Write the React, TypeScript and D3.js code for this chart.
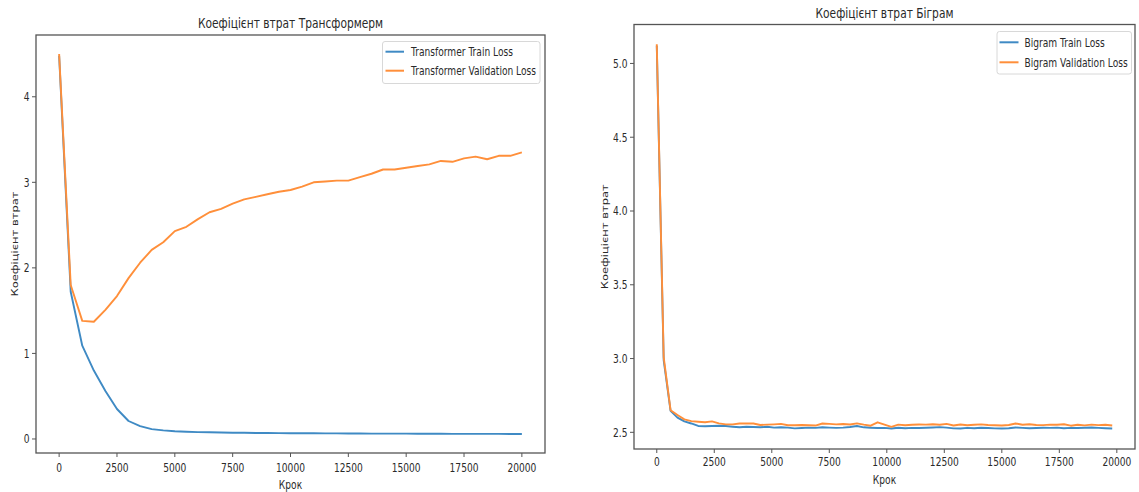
import React from 'react';
import * as d3 from 'd3';

// ---------- DATA ----------
const transformerSteps = [
  0, 500, 1000, 1500, 2000, 2500, 3000, 3500, 4000, 4500, 5000, 5500, 6000, 6500, 7000, 7500,
  8000, 8500, 9000, 9500, 10000, 10500, 11000, 11500, 12000, 12500, 13000, 13500, 14000, 14500,
  15000, 15500, 16000, 16500, 17000, 17500, 18000, 18500, 19000, 19500, 20000,
];
const transformerTrain = [
  4.48, 1.72, 1.09, 0.8, 0.56, 0.35, 0.21, 0.15, 0.115, 0.1, 0.09, 0.085, 0.08, 0.078, 0.075,
  0.073, 0.072, 0.07, 0.069, 0.068, 0.067, 0.066, 0.066, 0.065, 0.065, 0.064, 0.064, 0.063, 0.063,
  0.062, 0.062, 0.061, 0.061, 0.061, 0.06, 0.06, 0.06, 0.059, 0.059, 0.058, 0.058,
];
const transformerVal = [
  4.5, 1.8, 1.38, 1.37, 1.51, 1.67, 1.88, 2.06, 2.21, 2.3, 2.43, 2.48, 2.57, 2.65, 2.69, 2.75, 2.8,
  2.83, 2.86, 2.89, 2.91, 2.95, 3.0, 3.01, 3.02, 3.02, 3.06, 3.1, 3.15, 3.15, 3.17, 3.19, 3.21,
  3.25, 3.24, 3.28, 3.3, 3.27, 3.31, 3.31, 3.35,
];

const bigramSteps = [
  0, 300, 600, 900, 1200, 1500, 1800, 2100, 2400, 2700, 3000, 3300, 3600, 3900, 4200, 4500, 4800,
  5100, 5400, 5700, 6000, 6300, 6600, 6900, 7200, 7500, 7800, 8100, 8400, 8700, 9000, 9300, 9600,
  9900, 10200, 10500, 10800, 11100, 11400, 11700, 12000, 12300, 12600, 12900, 13200, 13500, 13800,
  14100, 14400, 14700, 15000, 15300, 15600, 15900, 16200, 16500, 16800, 17100, 17400, 17700, 18000,
  18300, 18600, 18900, 19200, 19500, 19800,
];
const bigramTrain = [
  5.12, 2.99, 2.645, 2.6, 2.574, 2.56, 2.543, 2.541, 2.543, 2.545, 2.543, 2.538, 2.534, 2.538,
  2.536, 2.534, 2.538, 2.532, 2.534, 2.532, 2.527, 2.529, 2.532, 2.53, 2.534, 2.532, 2.53, 2.532,
  2.536, 2.543, 2.534, 2.531, 2.529, 2.53, 2.526, 2.531, 2.528, 2.53, 2.529, 2.531, 2.533, 2.535,
  2.532, 2.527, 2.526, 2.53, 2.528, 2.531, 2.529, 2.527, 2.526, 2.528, 2.533, 2.53, 2.528, 2.529,
  2.531, 2.53, 2.532, 2.528, 2.53, 2.529, 2.531, 2.533, 2.53, 2.528, 2.526,
];
const bigramVal = [
  5.13, 3.01, 2.65, 2.617, 2.588, 2.576, 2.572, 2.568, 2.574, 2.561, 2.554, 2.554, 2.56, 2.561,
  2.56, 2.55, 2.552, 2.554, 2.557, 2.548, 2.548, 2.55, 2.548, 2.546, 2.56, 2.557, 2.554, 2.556,
  2.553, 2.561, 2.552, 2.545, 2.568, 2.552, 2.537, 2.552, 2.548, 2.551, 2.553, 2.552, 2.555, 2.551,
  2.557, 2.546, 2.553, 2.548, 2.551, 2.554, 2.55, 2.548, 2.546, 2.55, 2.56, 2.551, 2.555, 2.55,
  2.549, 2.552, 2.551, 2.555, 2.545, 2.551, 2.547, 2.552, 2.549, 2.551, 2.546,
];

const xTicks = [0, 2500, 5000, 7500, 10000, 12500, 15000, 17500, 20000];
const transformerYTicks = [0, 1, 2, 3, 4];
const bigramYTicks = [2.5, 3.0, 3.5, 4.0, 4.5, 5.0];
const transformerXLim = [-1000, 21000];
const transformerYLim = [-0.164, 4.722];
const bigramXLim = [-990, 20790];
const bigramYLim = [2.387, 5.264];

const titles = ['Коефіцієнт втрат Трансформерм', 'Коефіцієнт втрат Біграм'];
const xLabel = 'Крок';
const yLabel = 'Коефіцієнт втрат';
const transformerLegend = ['Transformer Train Loss', 'Transformer Validation Loss'];
const bigramLegend = ['Bigram Train Loss', 'Bigram Validation Loss'];

// ---------- STYLE ----------
const BLUE = '#3f8ac4';
const ORANGE = '#ff8f3a';
const TEXT = '#2a2a2a';
const SX = 0.79;
const FONT = 'DejaVu Sans';

function T(props: {
  x: number; y: number; size: number; anchor?: string; rotate?: boolean; children: any; baseline?: string;
}) {
  const { x, y, size, anchor = 'start', rotate = false, children, baseline } = props;
  return (
    <text
      transform={`translate(${x},${y}) scale(${SX},1)${rotate ? ' rotate(-90)' : ''}`}
      fontSize={size}
      fontFamily={FONT}
      textAnchor={anchor}
      dominantBaseline={baseline}
      fill={TEXT}
    >
      {children}
    </text>
  );
}

type PanelProps = {
  box: { l: number; r: number; t: number; b: number };
  xLim: number[];
  yLim: number[];
  yTicks: number[];
  yFmt: (v: number) => string;
  steps: number[];
  train: number[];
  val: number[];
  title: string;
  titleY: number;
  legend: string[];
  legendBox: { l: number; r: number; t: number; b: number; lineX0: number; lineX1: number; textX: number; row1: number; row2: number };
  xTickLabelY: number;
  xLabelY: number;
  yLabelX: number;
};

function Panel(p: PanelProps) {
  const x = d3.scaleLinear().domain(p.xLim).range([p.box.l, p.box.r]);
  const y = d3.scaleLinear().domain(p.yLim).range([p.box.b, p.box.t]);
  const line = (vals: number[]) =>
    d3
      .line<number>()
      .x((_, i) => x(p.steps[i]))
      .y((d) => y(d))(vals) || '';
  const cx = (p.box.l + p.box.r) / 2;
  const cy = (p.box.t + p.box.b) / 2;
  const lb = p.legendBox;
  return (
    <g>
      {/* lines */}
      <path d={line(p.train)} fill="none" stroke={BLUE} strokeWidth={1.9} strokeLinejoin="round" />
      <path d={line(p.val)} fill="none" stroke={ORANGE} strokeWidth={1.9} strokeLinejoin="round" />
      {/* frame */}
      <rect
        x={p.box.l}
        y={p.box.t}
        width={p.box.r - p.box.l}
        height={p.box.b - p.box.t}
        fill="none"
        stroke="#555"
        strokeWidth={1.3}
      />
      {/* x ticks */}
      {xTicks.map((t) => (
        <g key={'x' + t}>
          <line x1={x(t)} x2={x(t)} y1={p.box.b} y2={p.box.b + 4} stroke="#555" strokeWidth={1} />
          <T x={x(t)} y={p.xTickLabelY} size={11.5} anchor="middle">
            {String(t)}
          </T>
        </g>
      ))}
      {/* y ticks */}
      {p.yTicks.map((t) => (
        <g key={'y' + t}>
          <line x1={p.box.l - 4} x2={p.box.l} y1={y(t)} y2={y(t)} stroke="#555" strokeWidth={1} />
          <T x={p.box.l - 6.5} y={y(t)} size={11.5} anchor="end" baseline="central">
            {p.yFmt(t)}
          </T>
        </g>
      ))}
      {/* title and axis labels */}
      <T x={cx} y={p.titleY} size={13.5} anchor="middle">
        {p.title}
      </T>
      <T x={cx} y={p.xLabelY} size={11.5} anchor="middle">
        {xLabel}
      </T>
      <T x={p.yLabelX} y={cy} size={11.5} anchor="middle" rotate baseline="central">
        {yLabel}
      </T>
      {/* legend */}
      <rect
        x={lb.l}
        y={lb.t}
        width={lb.r - lb.l}
        height={lb.b - lb.t}
        rx={2.5}
        fill="#fff"
        fillOpacity={0.8}
        stroke="#d8d8d8"
        strokeWidth={1}
      />
      <line x1={lb.lineX0} x2={lb.lineX1} y1={lb.row1} y2={lb.row1} stroke={BLUE} strokeWidth={2} />
      <line x1={lb.lineX0} x2={lb.lineX1} y1={lb.row2} y2={lb.row2} stroke={ORANGE} strokeWidth={2} />
      <T x={lb.textX} y={lb.row1} size={11.5} baseline="central">
        {p.legend[0]}
      </T>
      <T x={lb.textX} y={lb.row2} size={11.5} baseline="central">
        {p.legend[1]}
      </T>
    </g>
  );
}

export default function App() {
  return (
    <svg
      width={1139}
      height={492}
      style={{ position: 'absolute', left: 0, top: 0, background: '#fff' }}
    >
      <rect x={0} y={0} width={1139} height={492} fill="#fff" />
      <Panel
        box={{ l: 36, r: 545, t: 35, b: 453 }}
        xLim={transformerXLim}
        yLim={transformerYLim}
        yTicks={transformerYTicks}
        yFmt={(v) => String(v)}
        steps={transformerSteps}
        train={transformerTrain}
        val={transformerVal}
        title={titles[0]}
        titleY={28}
        legend={transformerLegend}
        legendBox={{ l: 382.5, r: 540, t: 41.5, b: 83.5, lineX0: 385.5, lineX1: 404, textX: 411, row1: 51.7, row2: 70.7 }}
        xTickLabelY={472}
        xLabelY={489}
        yLabelX={14}
      />
      <Panel
        box={{ l: 634, r: 1135, t: 24.5, b: 449 }}
        xLim={bigramXLim}
        yLim={bigramYLim}
        yTicks={bigramYTicks}
        yFmt={(v) => v.toFixed(1)}
        steps={bigramSteps}
        train={bigramTrain}
        val={bigramVal}
        title={titles[1]}
        titleY={18}
        legend={bigramLegend}
        legendBox={{ l: 997, r: 1131.5, t: 31.5, b: 74, lineX0: 999.5, lineX1: 1018.5, textX: 1024.5, row1: 42.3, row2: 62.3 }}
        xTickLabelY={466}
        xLabelY={484}
        yLabelX={604}
      />
    </svg>
  );
}
